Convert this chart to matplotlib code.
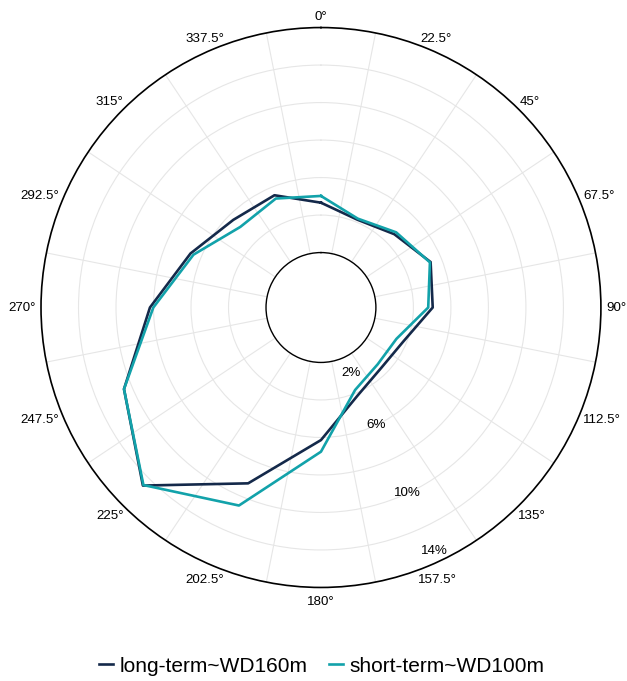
import numpy as np
import matplotlib.pyplot as plt

plt.rcParams['font.family'] = ['Liberation Sans', 'DejaVu Sans']

# wind direction sectors (deg) and frequency per sector (%)
directions = np.arange(0, 360, 22.5)
long_term = [4.66, 4.14, 4.60, 5.40, 5.03, 3.82, 3.62, 4.16,
             6.14, 9.22, 12.50, 10.44, 8.19, 6.60, 5.68, 5.55]
short_term = [5.02, 4.20, 4.74, 5.36, 4.79, 3.43, 3.35, 3.83,
              6.76, 10.50, 12.46, 10.44, 8.01, 6.43, 5.15, 5.36]

r_ticks = [2, 6, 10, 14]
r_tick_labels = ['2%', '6%', '10%', '14%']

series = [
    ('long-term~WD160m', long_term, '#14294a'),
    ('short-term~WD100m', short_term, '#12a2aa'),
]

fig = plt.figure(figsize=(6.27, 6.81), dpi=100)
ax = fig.add_axes([0.0654, 0.1373, 0.893, 0.8223], projection='polar')
ax.set_theta_zero_location('N')
ax.set_theta_direction(-1)

theta = np.deg2rad(np.append(directions, directions[0]))
for name, vals, color in series:
    ax.plot(theta, np.append(vals, vals[0]), color=color, lw=1.9, label=name)

# radial axis with a hole in the middle
ax.set_rlim(2, 14)
ax.set_rorigin(-0.93)
ax.set_yticks(np.arange(4, 14, 2))
ax.set_yticklabels([])
ax.yaxis.grid(True, color='#e6e6e6', lw=0.8)

# sector ticks, grid lines drawn between the sectors
ax.set_xticks(np.deg2rad(directions))
ax.set_xticklabels([])
ax.set_xticks(np.deg2rad(directions + 11.25), minor=True)
ax.xaxis.grid(False, which='major')
ax.xaxis.grid(True, which='minor', color='#e6e6e6', lw=0.8)
ax.tick_params(axis='x', which='both', length=0)

ax.spines['polar'].set_color('black')
ax.spines['polar'].set_linewidth(1.2)
ax.spines['inner'].set_color('black')
ax.spines['inner'].set_linewidth(1.0)

# direction labels just outside the rim
rmax = ax.get_rmax()
dir_labels = []
for d in directions:
    a = np.deg2rad(d)
    t = ax.annotate(f'{d:g}°', xy=(a, rmax), xytext=(0, 0),
                    textcoords='offset pixels', ha='center', va='center',
                    fontsize=9.6, annotation_clip=False)
    dir_labels.append((a, t))

# radial tick labels along the lower-right side
for r, lab in zip(r_ticks, r_tick_labels):
    ax.text(np.deg2rad(155), np.clip(r, 2.9, 13.4), lab, fontsize=9.6,
            ha='center', va='center')

fig.legend(loc='center', bbox_to_anchor=(0.513, 0.022), ncol=2, frameon=False,
           fontsize=15, handlelength=0.7, handletextpad=0.3, columnspacing=1.0)

# push each direction label out by half its own size
fig.canvas.draw()
renderer = fig.canvas.get_renderer()
for a, t in dir_labels:
    bb = t.get_window_extent(renderer)
    gap_v = 5 if np.cos(a) > 0 else 9
    t.set_position((np.sin(a) * (bb.width / 2 + 5),
                    np.cos(a) * (bb.height / 2 + gap_v)))

fig.savefig('out.png', dpi=100)
